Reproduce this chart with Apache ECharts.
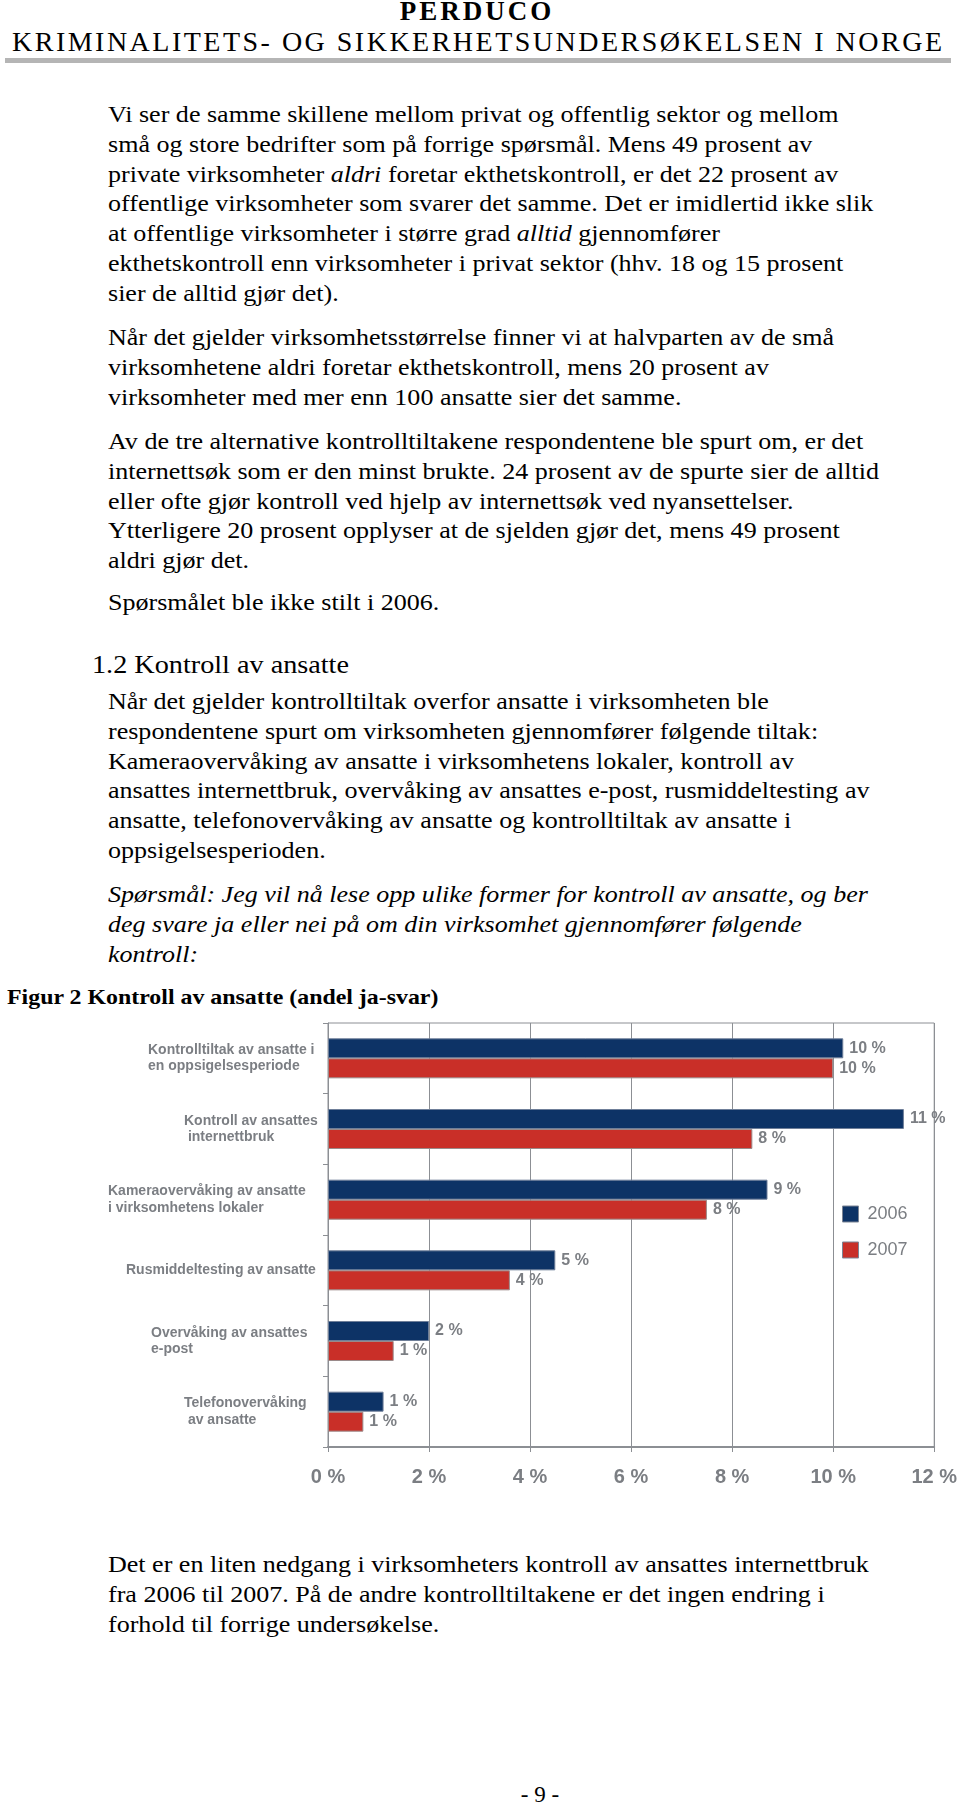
<!DOCTYPE html>
<html>
<head>
<meta charset="utf-8">
<script src="https://cdn.jsdelivr.net/npm/echarts@6/dist/echarts.min.js"></script>
<style>
  html, body { margin:0; padding:0; background:#fff; }
  body { width:960px; height:1806px; position:relative; overflow:hidden; font-family:"Liberation Serif","Times New Roman",serif; color:#000; }
  .t { position:absolute; white-space:nowrap; font-size:24px; line-height:29.8px; transform:scaleX(1.085); transform-origin:0 0; }
  .pn { position:absolute; white-space:nowrap; font-size:23px; line-height:29.8px; }
  #hdr1 { position:absolute; top:-4px; left:0; width:954px; text-align:center; font-weight:bold; font-size:27px; letter-spacing:3px; line-height:30px; }
  #hdr2 { position:absolute; top:26px; left:12px; font-size:28px; line-height:32px; white-space:nowrap; }
  #bar { position:absolute; top:58px; left:5px; width:946px; height:5px; background:#b5b5b5; }
  #chart { position:absolute; left:0; top:1010px; width:960px; height:500px; }
</style>
</head>
<body>
<div id="hdr1">PERDUCO</div>
<div id="hdr2">KRIMINALITETS- OG SIKKERHETSUNDERSØKELSEN I NORGE</div>
<div id="bar"></div>

<div class="t" style="top:100px;left:108px;">Vi ser de samme skillene mellom privat og offentlig sektor og mellom<br>små og store bedrifter som på forrige spørsmål. Mens 49 prosent av<br>private virksomheter <i>aldri</i> foretar ekthetskontroll, er det 22 prosent av<br>offentlige virksomheter som svarer det samme. Det er imidlertid ikke slik<br>at offentlige virksomheter i større grad <i>alltid</i> gjennomfører<br>ekthetskontroll enn virksomheter i privat sektor (hhv. 18 og 15 prosent<br>sier de alltid gjør det).</div>

<div class="t" style="top:323px;left:108px;">Når det gjelder virksomhetsstørrelse finner vi at halvparten av de små<br>virksomhetene aldri foretar ekthetskontroll, mens 20 prosent av<br>virksomheter med mer enn 100 ansatte sier det samme.</div>

<div class="t" style="top:427px;left:108px;">Av de tre alternative kontrolltiltakene respondentene ble spurt om, er det<br>internettsøk som er den minst brukte. 24 prosent av de spurte sier de alltid<br>eller ofte gjør kontroll ved hjelp av internettsøk ved nyansettelser.<br>Ytterligere 20 prosent opplyser at de sjelden gjør det, mens 49 prosent<br>aldri gjør det.</div>

<div class="t" style="top:588px;left:108px;">Spørsmålet ble ikke stilt i 2006.</div>

<div class="t" style="top:650px;left:92px;font-size:26px;">1.2 Kontroll av ansatte</div>

<div class="t" style="top:687px;left:108px;">Når det gjelder kontrolltiltak overfor ansatte i virksomheten ble<br>respondentene spurt om virksomheten gjennomfører følgende tiltak:<br>Kameraovervåking av ansatte i virksomhetens lokaler, kontroll av<br>ansattes internettbruk, overvåking av ansattes e-post, rusmiddeltesting av<br>ansatte, telefonovervåking av ansatte og kontrolltiltak av ansatte i<br>oppsigelsesperioden.</div>

<div class="t" style="top:880px;left:108px;font-style:italic;">Spørsmål: Jeg vil nå lese opp ulike former for kontroll av ansatte, og ber<br>deg svare ja eller nei på om din virksomhet gjennomfører følgende<br>kontroll:</div>

<div class="t" style="top:982px;left:7px;font-weight:bold;font-size:22px;">Figur 2 Kontroll av ansatte (andel ja-svar)</div>

<div id="chart"></div>

<div class="t" style="top:1550px;left:108px;">Det er en liten nedgang i virksomheters kontroll av ansattes internettbruk<br>fra 2006 til 2007. På de andre kontrolltiltakene er det ingen endring i<br>forhold til forrige undersøkelse.</div>

<div class="pn" style="top:1780px;left:0;width:1080px;text-align:center;">- 9 -</div>

<script>
// ---- data ----
const categories = [
  "Kontrolltiltak av ansatte i\nen oppsigelsesperiode",
  "Kontroll av ansattes\n internettbruk",
  "Kameraovervåking av ansatte\ni virksomhetens lokaler",
  "Rusmiddeltesting av ansatte",
  "Overvåking av ansattes\ne-post",
  "Telefonovervåking\n av ansatte"
];
const seriesNames = ["2006", "2007"];
const values2006 = [10.2, 11.4, 8.7, 4.5, 2.0, 1.1];
const values2007 = [10.0, 8.4, 7.5, 3.6, 1.3, 0.7];
const xTicks = [0, 2, 4, 6, 8, 10, 12];

// fit header letter spacing
(function(){
  const h = document.getElementById('hdr2');
  const txt = h.textContent;
  const w = h.getBoundingClientRect().width;
  const ls = (930 - w) / (txt.length - 1);
  h.style.letterSpacing = ls + 'px';
})();

const labelIndent = [40, 76, 0, 18, 43, 76];
const gray = '#7b7e83';
const lineGray = '#8c8f94';
const rich = {};
labelIndent.forEach((p, i) => {
  rich['c' + i] = { fontFamily: 'Liberation Sans, Arial, sans-serif', fontSize: 14, fontWeight: 'bold', color: gray, lineHeight: 16.5, padding: [0, 0, 0, p] };
});

const chart = echarts.init(document.getElementById('chart'), null, { renderer: 'canvas' });
chart.setOption({
  animation: false,
  textStyle: { fontFamily: 'Liberation Sans, Arial, sans-serif' },
  grid: { left: 328, right: 20, top: 13, bottom: 63, show: true, borderColor: lineGray, borderWidth: 1, containLabel: false },
  legend: {
    orient: 'vertical', left: 842, top: 195, padding: 0,
    itemWidth: 16, itemHeight: 16, itemGap: 18,
    icon: 'rect',
    data: seriesNames,
    textStyle: { fontSize: 18, color: gray, fontFamily: 'Liberation Sans, Arial, sans-serif', padding: [0, 0, 0, 4] },
    itemStyle: { borderColor: '#7d8594', borderWidth: 1 }
  },
  xAxis: {
    type: 'value', min: xTicks[0], max: xTicks[xTicks.length - 1], interval: 2,
    axisLine: { show: true, lineStyle: { color: lineGray, width: 2 } },
    axisTick: { show: true, length: 5, lineStyle: { color: lineGray } },
    splitLine: { show: true, lineStyle: { color: lineGray, width: 1 } },
    axisLabel: { formatter: v => v + ' %', fontSize: 20, fontWeight: 'bold', color: gray, margin: 20 }
  },
  yAxis: {
    type: 'category', inverse: true, data: categories,
    axisLine: { show: true, lineStyle: { color: lineGray, width: 1 } },
    axisTick: { show: true, length: 5, lineStyle: { color: lineGray } },
    axisLabel: {
      interval: 0, align: 'left', margin: 220,
      formatter: (v, i) => v.split('\n').map(l => '{c' + i + '|' + l + '}').join('\n'),
      rich: rich
    }
  },
  series: [
    {
      name: seriesNames[0], type: 'bar', data: values2006, barWidth: 20, barGap: '0%',
      itemStyle: { color: '#0d3366', borderColor: '#6f7f99', borderWidth: 1 },
      label: { show: true, position: 'right', distance: 6, formatter: p => Math.round(p.value) + ' %', fontSize: 16, fontWeight: 'bold', color: gray }
    },
    {
      name: seriesNames[1], type: 'bar', data: values2007, barWidth: 20, barGap: '0%',
      itemStyle: { color: '#c92f28', borderColor: '#9a8a8a', borderWidth: 1 },
      label: { show: true, position: 'right', distance: 6, formatter: p => Math.round(p.value) + ' %', fontSize: 16, fontWeight: 'bold', color: gray }
    }
  ]
});
</script>
</body>
</html>
